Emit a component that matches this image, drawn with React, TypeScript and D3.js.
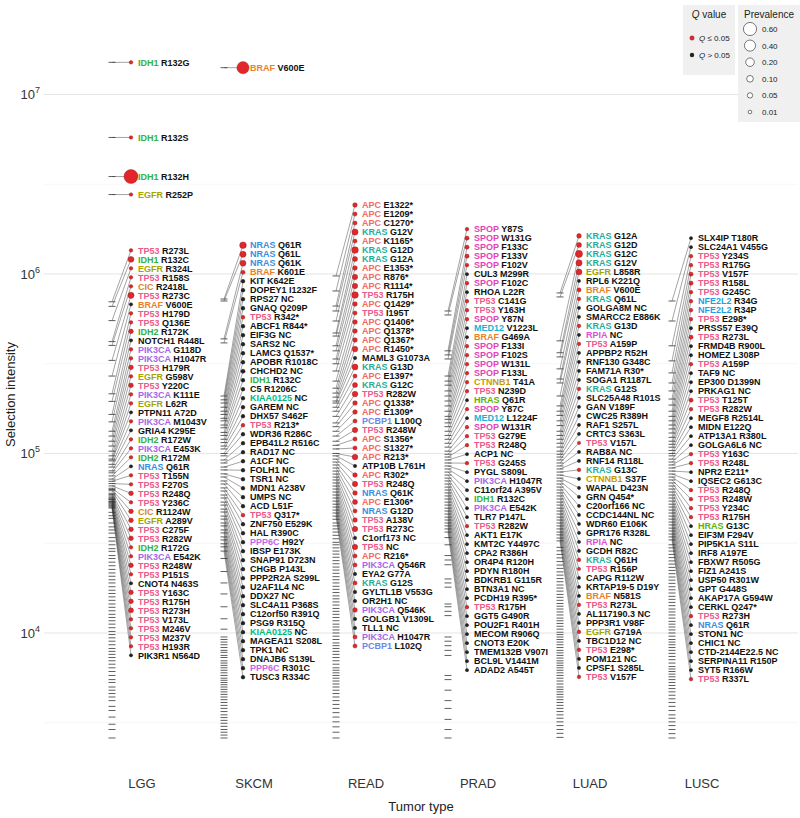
import * as d3 from "d3";

// gene, change, selection intensity (thousands), prevalence, Q <= 0.05 (1) or not (0)
type Mut = [string, string, number, number, number];

const tumors = ["LGG", "SKCM", "READ", "PRAD", "LUAD", "LUSC"];

const lgg: Mut[] = [
  ["IDH1", "R132G", 15100, 0.01, 1], ["IDH1", "R132S", 5760, 0.01, 1], ["IDH1", "R132H", 3490, 0.7, 1],
  ["EGFR", "R252P", 2770, 0.01, 1], ["TP53", "R273L", 700, 0.01, 1], ["IDH1", "R132C", 660, 0.07, 1],
  ["EGFR", "R324L", 550, 0.01, 1], ["TP53", "R158S", 420, 0.01, 1], ["CIC", "R2418L", 400, 0.01, 1],
  ["TP53", "R273C", 330, 0.08, 1], ["BRAF", "V600E", 270, 0.006, 0], ["TP53", "H179D", 215, 0.01, 1],
  ["TP53", "Q136E", 195, 0.01, 1], ["IDH2", "R172K", 165, 0.03, 1], ["NOTCH1", "R448L", 150, 0.006, 0],
  ["PIK3CA", "G118D", 133, 0.01, 1], ["PIK3CA", "H1047R", 125, 0.01, 1], ["TP53", "H179R", 117, 0.03, 1],
  ["EGFR", "G598V", 110, 0.01, 1], ["TP53", "Y220C", 103, 0.03, 1], ["PIK3CA", "K111E", 97, 0.01, 1],
  ["EGFR", "L62R", 93, 0.01, 1], ["PTPN11", "A72D", 91, 0.006, 0], ["PIK3CA", "M1043V", 87, 0.01, 1],
  ["GRIA4", "K295E", 84, 0.006, 0], ["IDH2", "R172W", 80, 0.01, 1], ["PIK3CA", "E453K", 78, 0.01, 1],
  ["IDH2", "R172M", 75, 0.01, 1], ["NRAS", "Q61R", 72, 0.006, 0], ["TP53", "T155N", 70, 0.01, 1],
  ["TP53", "F270S", 68, 0.01, 1], ["TP53", "R248Q", 66, 0.03, 1], ["TP53", "Y236C", 64, 0.01, 1],
  ["CIC", "R1124W", 63, 0.03, 1], ["EGFR", "A289V", 62, 0.03, 1], ["TP53", "C275F", 60, 0.03, 1],
  ["TP53", "R282W", 59, 0.03, 1], ["IDH2", "R172G", 58, 0.01, 1], ["PIK3CA", "E542K", 57, 0.01, 1],
  ["TP53", "R248W", 56, 0.03, 1], ["TP53", "P151S", 55.5, 0.01, 1], ["CNOT4", "N463S", 55, 0.006, 0],
  ["TP53", "Y163C", 54, 0.03, 1], ["TP53", "R175H", 53.6, 0.03, 1], ["TP53", "R273H", 53, 0.04, 1],
  ["TP53", "V173L", 52.3, 0.01, 1], ["TP53", "M246V", 51.6, 0.01, 1], ["TP53", "M237V", 51, 0.01, 1],
  ["TP53", "H193R", 50.3, 0.01, 1], ["PIK3R1", "N564D", 49.7, 0.006, 0],
];

const skcm: Mut[] = [
  ["BRAF", "V600E", 14100, 0.5, 1], ["NRAS", "Q61R", 725, 0.1, 1], ["NRAS", "Q61L", 707, 0.08, 1],
  ["NRAS", "Q61K", 435, 0.07, 1], ["BRAF", "K601E", 413, 0.02, 1], ["KIT", "K642E", 209, 0.012, 0],
  ["DOPEY1", "I1232F", 199, 0.012, 0], ["RPS27", "NC", 191, 0.012, 0], ["GNAQ", "Q209P", 181, 0.012, 0],
  ["TP53", "R342*", 172, 0.012, 1], ["ABCF1", "R844*", 165, 0.012, 0], ["EIF3G", "NC", 157, 0.012, 0],
  ["SARS2", "NC", 152, 0.012, 0], ["LAMC3", "Q1537*", 144, 0.012, 0], ["APOBR", "R1018C", 139, 0.012, 0],
  ["CHCHD2", "NC", 131, 0.02, 0], ["IDH1", "R132C", 126, 0.012, 0], ["C5", "R1206C", 120, 0.012, 0],
  ["KIAA0125", "NC", 115, 0.012, 0], ["GAREM", "NC", 110, 0.012, 0], ["DHX57", "S462F", 106, 0.012, 0],
  ["TP53", "R213*", 100, 0.012, 1], ["WDR36", "R286C", 97, 0.012, 0], ["EPB41L2", "R516C", 92, 0.012, 0],
  ["RAD17", "NC", 88.5, 0.012, 0], ["A1CF", "NC", 84, 0.012, 0], ["FOLH1", "NC", 81, 0.012, 0],
  ["TSR1", "NC", 77, 0.012, 0], ["MDN1", "A238V", 74, 0.012, 0], ["UMPS", "NC", 70.3, 0.012, 0],
  ["ACD", "L51F", 67.6, 0.012, 0], ["TP53", "Q317*", 64.3, 0.012, 1], ["ZNF750", "E529K", 61.8, 0.012, 0],
  ["HAL", "R390C", 58.7, 0.012, 0], ["PPP6C", "H92Y", 56.5, 0.012, 0], ["IBSP", "E173K", 53.6, 0.012, 0],
  ["SNAP91", "D723N", 51.6, 0.012, 0], ["CHGB", "P143L", 49, 0.012, 0], ["PPP2R2A", "S299L", 47.2, 0.012, 0],
  ["U2AF1L4", "NC", 44.8, 0.012, 0], ["DDX27", "NC", 43.1, 0.012, 0], ["SLC4A11", "P368S", 41, 0.012, 0],
  ["C12orf50", "R391Q", 39.5, 0.012, 0], ["PSG9", "R315Q", 37.5, 0.012, 0], ["KIAA0125", "NC", 36.1, 0.012, 0],
  ["MAGEA11", "S208L", 34.3, 0.012, 0], ["TPK1", "NC", 33, 0.012, 0], ["DNAJB6", "S139L", 31.4, 0.012, 0],
  ["PPP6C", "R301C", 30.2, 0.012, 0], ["TUSC3", "R334C", 28.6, 0.012, 0],
];

const read: Mut[] = [
  ["APC", "E1322*", 975, 0.03, 1], ["APC", "E1209*", 804, 0.02, 1], ["APC", "C1270*", 663, 0.02, 1],
  ["KRAS", "G12V", 622, 0.08, 1], ["APC", "K1165*", 547, 0.02, 1], ["KRAS", "G12D", 469, 0.1, 1],
  ["KRAS", "G12A", 451, 0.04, 1], ["APC", "E1353*", 398, 0.03, 1], ["APC", "R876*", 373, 0.05, 1],
  ["APC", "R1114*", 336, 0.05, 1], ["TP53", "R175H", 316, 0.1, 1], ["APC", "Q1429*", 288, 0.03, 1],
  ["TP53", "I195T", 253, 0.02, 1], ["APC", "Q1406*", 231, 0.03, 1], ["APC", "Q1378*", 217, 0.03, 1],
  ["APC", "Q1367*", 206, 0.03, 1], ["APC", "R1450*", 196, 0.06, 1], ["MAML3", "G1073A", 191, 0.008, 0],
  ["KRAS", "G13D", 181, 0.07, 1], ["APC", "E1397*", 172, 0.02, 1], ["KRAS", "G12C", 161, 0.04, 1],
  ["TP53", "R282W", 148, 0.06, 1], ["APC", "Q1338*", 141, 0.03, 1], ["APC", "E1309*", 133, 0.03, 1],
  ["PCBP1", "L100Q", 125, 0.02, 1], ["TP53", "R248W", 117, 0.05, 1], ["APC", "S1356*", 111, 0.02, 1],
  ["APC", "S1327*", 106, 0.02, 1], ["APC", "R213*", 100, 0.06, 1], ["ATP10B", "L761H", 97, 0.008, 0],
  ["APC", "R302*", 93, 0.03, 1], ["TP53", "R248Q", 89.6, 0.05, 1], ["NRAS", "Q61K", 86.3, 0.03, 1],
  ["APC", "E1306*", 83, 0.04, 1], ["NRAS", "G12D", 79.8, 0.02, 1], ["TP53", "A138V", 76.8, 0.03, 1],
  ["TP53", "R273C", 73.9, 0.05, 1], ["C1orf173", "NC", 71.2, 0.008, 0], ["TP53", "NC", 68.5, 0.05, 1],
  ["APC", "R216*", 65.9, 0.02, 1], ["PIK3CA", "Q546R", 63.4, 0.02, 1], ["EYA2", "G77A", 61, 0.008, 0],
  ["KRAS", "G12S", 58.7, 0.02, 1], ["GYLTL1B", "V553G", 56.5, 0.008, 0], ["OR2H1", "NC", 54.3, 0.008, 0],
  ["PIK3CA", "Q546K", 52.2, 0.03, 1], ["GOLGB1", "V1309L", 50.3, 0.008, 0], ["TLL1", "NC", 48.4, 0.008, 0],
  ["PIK3CA", "H1047R", 46.6, 0.02, 1], ["PCBP1", "L102Q", 44.8, 0.02, 1],
];

const prad: Mut[] = [
  ["SPOP", "Y87S", 622, 0.01, 1], ["SPOP", "W131G", 591, 0.02, 1], ["SPOP", "F133C", 373, 0.02, 1],
  ["SPOP", "F133V", 354, 0.02, 1], ["SPOP", "F102V", 336, 0.01, 1], ["CUL3", "M299R", 270, 0.005, 0],
  ["SPOP", "F102C", 253, 0.01, 1], ["RHOA", "L22R", 240, 0.005, 0], ["TP53", "C141G", 223, 0.01, 1],
  ["TP53", "Y163H", 209, 0.01, 1], ["SPOP", "Y87N", 196, 0.01, 1], ["MED12", "V1223L", 184, 0.005, 0],
  ["BRAF", "G469A", 172, 0.005, 0], ["SPOP", "F133I", 161, 0.01, 1], ["SPOP", "F102S", 155, 0.01, 1],
  ["SPOP", "W131L", 148, 0.01, 1], ["SPOP", "F133L", 141, 0.01, 1], ["CTNNB1", "T41A", 133, 0.01, 1],
  ["TP53", "N239D", 126, 0.01, 1], ["HRAS", "Q61R", 120, 0.005, 0], ["SPOP", "Y87C", 114, 0.01, 1],
  ["MED12", "L1224F", 108.5, 0.005, 0], ["SPOP", "W131R", 103, 0.01, 1], ["TP53", "G279E", 99, 0.01, 1],
  ["TP53", "R248Q", 95.5, 0.01, 1], ["ACP1", "NC", 92, 0.005, 0], ["TP53", "G245S", 88.5, 0.01, 1],
  ["PYGL", "S809L", 85.2, 0.005, 0], ["PIK3CA", "H1047R", 82, 0.005, 0], ["C11orf24", "A395V", 78.8, 0.005, 0],
  ["IDH1", "R132C", 75.8, 0.005, 0], ["PIK3CA", "E542K", 72.9, 0.005, 0], ["TLR7", "P147L", 70.3, 0.005, 0],
  ["TP53", "R282W", 67.6, 0.01, 1], ["AKT1", "E17K", 65, 0.005, 0], ["KMT2C", "Y4497C", 62.6, 0.005, 0],
  ["CPA2", "R386H", 60.3, 0.005, 0], ["OR4P4", "R120H", 58, 0.005, 0], ["PDYN", "R180H", 55.8, 0.005, 0],
  ["BDKRB1", "G115R", 53.6, 0.005, 0], ["BTN3A1", "NC", 51.6, 0.005, 0], ["PCDH19", "R395*", 49.6, 0.005, 0],
  ["TP53", "R175H", 47.8, 0.01, 1], ["GGT5", "G490R", 46, 0.005, 0], ["POU2F1", "R401H", 44.2, 0.005, 0],
  ["MECOM", "R906Q", 42.6, 0.005, 0], ["CNOT3", "E20K", 41, 0.005, 0], ["TMEM132B", "V907I", 39.5, 0.005, 0],
  ["BCL9L", "V1441M", 38, 0.005, 0], ["ADAD2", "A545T", 36.5, 0.005, 0],
];

const luad: Mut[] = [
  ["KRAS", "G12A", 784, 0.03, 1], ["KRAS", "G12D", 745, 0.04, 1], ["KRAS", "G12C", 424, 0.12, 1],
  ["KRAS", "G12V", 364, 0.08, 1], ["EGFR", "L858R", 345, 0.07, 1], ["RPL6", "K221Q", 296, 0.005, 0],
  ["BRAF", "V600E", 260, 0.02, 1], ["KRAS", "Q61L", 247, 0.01, 1], ["GOLGA8M", "NC", 209, 0.005, 0],
  ["SMARCC2", "E886K", 184, 0.005, 0], ["KRAS", "G13D", 172, 0.01, 1], ["RPIA", "NC", 163, 0.005, 0],
  ["TP53", "A159P", 152, 0.01, 1], ["APPBP2", "R52H", 143, 0.005, 0], ["RNF130", "G348C", 133, 0.005, 0],
  ["FAM71A", "R30*", 126, 0.005, 0], ["SOGA1", "R1187L", 120, 0.005, 0], ["KRAS", "G12S", 114, 0.01, 1],
  ["SLC25A48", "R101S", 108.5, 0.005, 0], ["GAN", "V189F", 103, 0.005, 0], ["CWC25", "R389H", 99, 0.005, 0],
  ["RAF1", "S257L", 95.5, 0.005, 0], ["CRTC3", "S363L", 92, 0.005, 0], ["TP53", "V157L", 88.5, 0.006, 1],
  ["RAB8A", "NC", 85.2, 0.005, 0], ["RNF14", "R118L", 82, 0.005, 0], ["KRAS", "G13C", 78.8, 0.01, 1],
  ["CTNNB1", "S37F", 75.8, 0.006, 0], ["WAPAL", "D423N", 72.9, 0.005, 0], ["GRN", "Q454*", 70.3, 0.005, 0],
  ["C20orf166", "NC", 67.6, 0.005, 0], ["CCDC144NL", "NC", 65, 0.005, 0], ["WDR60", "E106K", 62.6, 0.005, 0],
  ["GPR176", "R328L", 60.3, 0.005, 0], ["RPIA", "NC", 58, 0.005, 0], ["GCDH", "R82C", 55.8, 0.005, 0],
  ["KRAS", "Q61H", 53.6, 0.01, 1], ["TP53", "R156P", 51.6, 0.006, 1], ["CAPG", "R112W", 49.6, 0.005, 0],
  ["KRTAP19-5", "D19Y", 47.8, 0.005, 0], ["BRAF", "N581S", 46, 0.005, 0], ["TP53", "R273L", 44.2, 0.01, 1],
  ["AL117190.3", "NC", 42.6, 0.005, 0], ["PPP3R1", "V98F", 41, 0.005, 0], ["EGFR", "G719A", 39.5, 0.01, 1],
  ["TBC1D12", "NC", 38, 0.005, 0], ["TP53", "E298*", 36.5, 0.01, 1], ["POM121", "NC", 35.2, 0.005, 0],
  ["CPSF1", "S285L", 33.8, 0.005, 0], ["TP53", "V157F", 32.6, 0.01, 1],
];

const lusc: Mut[] = [
  ["SLX4IP", "T180R", 707, 0.005, 0], ["SLC24A1", "V455G", 547, 0.005, 0], ["TP53", "Y234S", 398, 0.01, 1],
  ["TP53", "R175G", 328, 0.01, 1], ["TP53", "V157F", 281, 0.02, 1], ["TP53", "R158L", 247, 0.02, 1],
  ["TP53", "G245C", 223, 0.01, 1], ["NFE2L2", "R34G", 201, 0.01, 1], ["NFE2L2", "R34P", 186, 0.01, 1],
  ["TP53", "E298*", 172, 0.01, 1], ["PRSS57", "E39Q", 161, 0.005, 0], ["TP53", "R273L", 152, 0.02, 1],
  ["FRMD4B", "R900L", 144, 0.005, 0], ["HOMEZ", "L308P", 137, 0.005, 0], ["TP53", "A159P", 130, 0.01, 1],
  ["TAF9", "NC", 123, 0.005, 0], ["EP300", "D1399N", 117, 0.005, 0], ["PRKAG1", "NC", 112.5, 0.005, 0],
  ["TP53", "T125T", 108.4, 0.02, 1], ["TP53", "R282W", 104, 0.01, 1], ["MEGF8", "R2514L", 100, 0.005, 0],
  ["MIDN", "E122Q", 97, 0.005, 0], ["ATP13A1", "R380L", 93, 0.005, 0], ["GOLGA6L6", "NC", 89.6, 0.005, 0],
  ["TP53", "Y163C", 86.3, 0.01, 1], ["TP53", "R248L", 83, 0.01, 1], ["NPR2", "E211*", 79.8, 0.005, 0],
  ["IQSEC2", "G613C", 76.8, 0.005, 0], ["TP53", "R248Q", 73.9, 0.01, 1], ["TP53", "R248W", 71.2, 0.01, 1],
  ["TP53", "Y234C", 68.5, 0.01, 1], ["TP53", "R175H", 65.9, 0.01, 1], ["HRAS", "G13C", 63.4, 0.005, 0],
  ["EIF3M", "F294V", 61, 0.005, 0], ["PIP5K1A", "S11L", 58.7, 0.005, 0], ["IRF8", "A197E", 56.5, 0.005, 0],
  ["FBXW7", "R505G", 54.3, 0.005, 0], ["FIZ1", "A241S", 52.2, 0.005, 0], ["USP50", "R301W", 50.3, 0.005, 0],
  ["GPT", "G448S", 48.4, 0.005, 0], ["AKAP17A", "G594W", 46.6, 0.005, 0], ["CERKL", "Q247*", 44.8, 0.005, 0],
  ["TP53", "R273H", 43.1, 0.01, 1], ["NRAS", "Q61R", 41.5, 0.005, 0], ["STON1", "NC", 40, 0.005, 0],
  ["CHIC1", "NC", 38.4, 0.005, 0], ["CTD-2144E22.5", "NC", 37, 0.005, 0], ["SERPINA11", "R150P", 35.6, 0.005, 0],
  ["SYT5", "R166W", 34.3, 0.005, 0], ["TP53", "R337L", 33, 0.01, 1],
];

// unlabeled variants (selection intensity, thousands)
const lggRug = [47, 45, 43.5, 41, 39, 37.5, 36, 34, 32.5, 31, 29.5, 28.5, 27, 26, 24.8, 23.7, 22.6, 21.6, 20.7,
  19.8, 19, 18.1, 17.3, 16.6, 15.9, 15.2, 14.5, 13.9, 13.3, 12.7, 12.2, 11.7, 11.2, 10.7, 10.2, 9.8, 9.4, 9.0,
  8.6, 8.2, 7.9, 7.6, 7.3, 7.0, 6.7, 6.4, 6.1, 5.8, 5.5, 5.3, 5.0, 4.8, 4.6, 4.4, 4.2, 3.9, 3.7, 3.4, 3.1, 2.9, 2.6];
const skcmRug = [26, 22, 19, 16.5, 14, 12, 10.5, 9.5, 9.2, 8.9, 8.6, 8.3, 8.0, 7.8, 7.5, 7.3, 7.0, 6.8, 6.6,
  6.4, 6.2, 6.0, 5.8, 5.6, 5.45, 5.3, 5.15, 5.0, 4.85, 4.7, 4.55, 4.4, 4.25, 4.1, 3.95, 3.8, 3.65, 3.5, 3.38,
  3.26, 3.14, 3.02, 2.9, 2.8, 2.7, 2.6];
const readRug = [43, 41, 39.5, 38, 36.5, 35, 33.5, 32, 31, 29.8, 28.6, 27.5, 26.4, 25.3, 24.3, 23.3, 22.4,
  21.5, 20.6, 19.8, 19, 18.2, 17.5, 16.8, 16.1, 15.5, 14.9, 14.3, 13.7, 13.2, 12.7, 12.2, 11.7, 11.2, 10.8,
  10.4, 10, 9.6, 9.2, 8.8, 8.5, 8.2, 7.9, 7.6, 7.3, 7.0, 6.7, 6.4, 6.2, 6.0, 5.8, 5.6, 5.4, 5.2, 5.0, 4.8, 4.6,
  4.4, 4.2, 4.0, 3.8, 3.6, 3.4, 3.2, 3.0, 2.8, 2.6];
const pradRug = [34, 31, 27, 25.5, 24, 20, 19, 18, 14.5, 14, 13.2, 12.5, 9.5, 9, 8.5, 8, 7.5, 5.8, 5.5, 4.8,
  4.2, 3.8, 3.3, 2.9, 2.6];
const luadRug = [30, 28.7, 27.4, 26.2, 25, 23.9, 22.9, 21.9, 21, 20.1, 19.3, 18.5, 17.8, 17.1, 16.4, 15.8,
  15.2, 14.6, 14.1, 13.6, 13.1, 12.6, 12.1, 11.7, 11.3, 10.9, 10.5, 10.1, 9.8, 9.5, 9.2, 8.9, 8.6, 8.3, 8.0,
  7.75, 7.5, 7.25, 7.0, 6.8, 6.6, 6.4, 6.2, 6.0, 5.8, 5.6, 5.4, 5.2, 5.0, 4.85, 4.7, 4.55, 4.4, 4.25, 4.1,
  3.95, 3.8, 3.65, 3.5, 3.35, 3.2, 3.05, 2.9, 2.76, 2.62];
const luscRug = [31, 29.8, 28.6, 27.4, 26.3, 25.2, 24.2, 23.2, 22.3, 21.4, 20.5, 19.7, 18.9, 18.1, 17.4, 16.7,
  16, 15.4, 14.8, 14.2, 13.6, 13.1, 12.6, 12.1, 11.6, 11.2, 10.8, 10.4, 10, 9.6, 9.2, 8.9, 8.6, 8.3, 8, 7.7,
  7.4, 7.1, 6.8, 6.5, 6.3, 6.1, 5.9, 5.7, 5.5, 5.3, 5.1, 4.9, 4.7, 4.5, 4.3, 4.1, 3.9, 3.7, 3.5, 3.35, 3.2,
  3.05, 2.9, 2.75, 2.6];

const labelled: Record<string, Mut[]> = { LGG: lgg, SKCM: skcm, READ: read, PRAD: prad, LUAD: luad, LUSC: lusc };
const rugs: Record<string, number[]> = { LGG: lggRug, SKCM: skcmRug, READ: readRug, PRAD: pradRug, LUAD: luadRug, LUSC: luscRug };

const geneColors: Record<string, string> = {
  TP53: "#ec5b8d", IDH1: "#35b23c", IDH2: "#35b23c", EGFR: "#a3a500", CIC: "#d8842a", BRAF: "#e8822a",
  PIK3CA: "#a865e8", NRAS: "#3a8ee0", KRAS: "#1fae9c", APC: "#f26a61", PCBP1: "#6a86e8", SPOP: "#e443b8",
  MED12: "#19b2d6", CTNNB1: "#c89b00", HRAS: "#5cb300", KIAA0125: "#00bb7e", PPP6C: "#c864e6",
  RPIA: "#dd4fd6", NFE2L2: "#1e9fe6",
};

const yTicks = [1e4, 1e5, 1e6, 1e7];
const yMinor = [10 ** 3.5, 10 ** 4.5, 10 ** 5.5, 10 ** 6.5];
const prevalenceLevels = [0.6, 0.4, 0.2, 0.1, 0.05, 0.01];

const FONT = "'Liberation Sans', Arial, Helvetica, sans-serif";
const GAP = 9;

// 1D label stacking: keep order, enforce min gap, least displacement
function stack(targets: number[], gap: number): number[] {
  type G = { n: number; sum: number; start: number };
  const groups: G[] = [];
  targets.forEach((t) => {
    groups.push({ n: 1, sum: t, start: t });
    while (groups.length > 1) {
      const last = groups[groups.length - 1];
      const prev = groups[groups.length - 2];
      if (prev.start + prev.n * gap > last.start) {
        const n = prev.n + last.n;
        const sum = prev.sum + last.sum - last.n * prev.n * gap;
        groups.splice(-2, 2, { n, sum, start: sum / n });
      } else break;
    }
  });
  const out: number[] = [];
  groups.forEach((g) => {
    for (let i = 0; i < g.n; i++) out.push(g.start + i * gap);
  });
  return out;
}

export default function App() {
  const W = 800;
  const H = 818;
  const top = 25;
  const bottom = 772;
  const left = 44;
  const right = 798;

  const y = d3.scaleLog().domain([10 ** 7.387, 10 ** 3.2256]).range([top, bottom]);
  const x = d3.scalePoint<string>().domain(tumors).range([112, 672]);
  const rScale = d3.scaleSqrt().domain([0, 0.7]).range([0, 5.9]);
  const r = (p: number) => 1.1 + rScale(p);

  return (
    <svg width={W} height={H} style={{ position: "absolute", left: 0, top: 0, display: "block", fontFamily: FONT }}>
      <rect width={W} height={H} fill="#fff" />
      {/* grid */}
      {yMinor.map((t) => (
        <line key={"mi" + t} x1={left} x2={right} y1={y(t)} y2={y(t)} stroke="#f0f0f0" strokeWidth={0.6} />
      ))}
      {yTicks.map((t) => (
        <line key={"ma" + t} x1={left} x2={right} y1={y(t)} y2={y(t)} stroke="#e2e2e2" strokeWidth={0.9} />
      ))}
      {/* y axis labels */}
      {yTicks.map((t) => (
        <text key={"yt" + t} x={40} y={y(t) + 5} textAnchor="end" fontSize={13} fill="#333">
          10<tspan dy={-6} fontSize={9}>{Math.round(Math.log10(t))}</tspan>
        </text>
      ))}
      <text transform={`translate(15,${(top + bottom) / 2 - 4}) rotate(-90)`} textAnchor="middle" fontSize={13} fill="#222">
        Selection intensity
      </text>

      {tumors.map((tt) => {
        const cx = x(tt)!;
        const muts = [...labelled[tt]].sort((a, b) => b[2] - a[2]);
        const targets = muts.map((m) => y(m[2] * 1000));
        const ly = stack(targets, GAP);
        const dotX = cx + 19;
        const allRug = [...rugs[tt], ...muts.map((m) => m[2])];
        return (
          <g key={tt}>
            {allRug.map((v, i) => (
              <line key={"r" + i} x1={cx - 3.5} x2={cx + 3.5} y1={y(v * 1000)} y2={y(v * 1000)} stroke="#1a1a1a" strokeWidth={0.7} />
            ))}
            {muts.map((m, i) => (
              <line key={"s" + i} x1={cx} y1={targets[i]} x2={dotX} y2={ly[i]} stroke="#333" strokeWidth={0.45} />
            ))}
            {muts.map((m, i) => (
              <g key={"l" + i}>
                <circle cx={dotX} cy={ly[i]} r={r(m[3])} fill={m[4] ? "#e3262b" : "#222"} stroke={m[4] ? "#8a1a1a" : "#111"} strokeWidth={0.4} />
                <text x={dotX + 7} y={ly[i] + 3.2} fontSize={9} fontWeight="bold" fill="#111">
                  <tspan fill={geneColors[m[0]] ?? "#111"}>{m[0]}</tspan>
                  {" " + m[1]}
                </text>
              </g>
            ))}
            <text x={cx + 30} y={bottom + 16} textAnchor="middle" fontSize={13} fill="#333">{tt}</text>
          </g>
        );
      })}

      <text x={(left + right) / 2} y={H - 7} textAnchor="middle" fontSize={13} fill="#222">Tumor type</text>

      {/* legend: Q value */}
      <g>
        <rect x={683} y={5} width={52} height={70} fill="#f0f0f0" />
        <text x={709} y={18} textAnchor="middle" fontSize={10} fill="#222">
          <tspan fontStyle="italic">Q</tspan> value
        </text>
        <circle cx={692} cy={38} r={2.2} fill="#e3262b" stroke="#8a1a1a" strokeWidth={0.4} />
        <text x={699} y={41} fontSize={8} fill="#222"><tspan fontStyle="italic">Q</tspan> ≤ 0.05</text>
        <circle cx={692} cy={55} r={2.2} fill="#222" />
        <text x={699} y={58} fontSize={8} fill="#222"><tspan fontStyle="italic">Q</tspan> &gt; 0.05</text>
      </g>
      {/* legend: Prevalence */}
      <g>
        <rect x={738} y={5} width={62} height={117} fill="#f0f0f0" />
        <text x={769} y={18} textAnchor="middle" fontSize={10} fill="#222">Prevalence</text>
        {prevalenceLevels.map((p, i) => (
          <g key={"pl" + p}>
            <circle cx={750} cy={29 + i * 16.6} r={r(p)} fill="#fff" stroke="#222" strokeWidth={0.6} />
            <text x={762} y={32 + i * 16.6} fontSize={8} fill="#222">{p.toFixed(2)}</text>
          </g>
        ))}
      </g>
    </svg>
  );
}
